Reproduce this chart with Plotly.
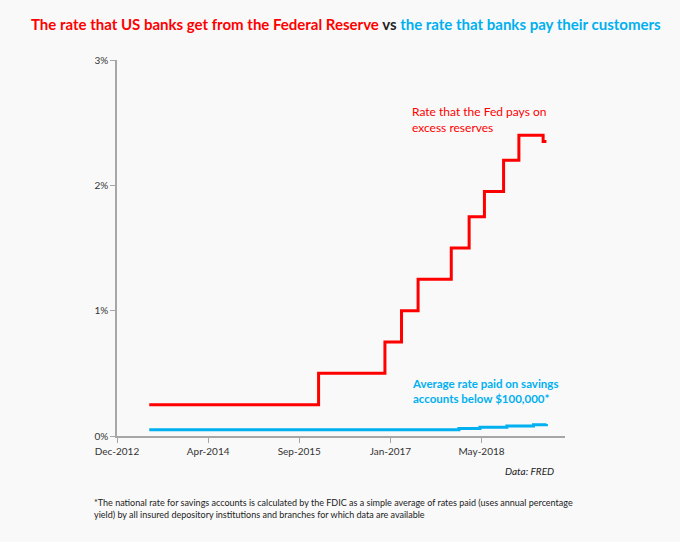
import plotly.graph_objects as go

# Interest rate on excess reserves (step changes), percent
fed_dates = ["2013-06-01", "2015-12-17", "2016-12-15", "2017-03-16", "2017-06-15",
             "2017-12-14", "2018-03-22", "2018-06-14", "2018-09-27", "2018-12-20",
             "2019-05-02", "2019-05-20"]
fed_rate = [0.25, 0.50, 0.75, 1.00, 1.25, 1.50, 1.75, 1.95, 2.20, 2.40, 2.35, 2.35]

# FDIC national savings rate (step changes), percent
sav_dates = ["2013-06-01", "2018-01-25", "2018-05-20", "2018-06-05", "2018-10-15",
             "2019-03-10", "2019-05-20"]
sav_rate = [0.05, 0.06, 0.07, 0.07, 0.08, 0.09, 0.095]

tick_dates = ["2012-12-06", "2014-04-20", "2015-09-02", "2017-01-14", "2018-05-29"]
tick_labels = ["Dec-2012", "Apr-2014", "Sep-2015", "Jan-2017", "May-2018"]

y_ticks = [0, 1, 2, 3]
y_tick_labels = ["0%", "1%", "2%", "3%"]

RED = "#FF0000"
BLUE = "#00B0F0"
BG = "#F9F9F9"
FONT = "Lato"

fig = go.Figure()
fig.add_trace(go.Scatter(x=fed_dates, y=fed_rate, mode="lines", line_shape="hv",
                         line=dict(color=RED, width=3), hoverinfo="skip"))
fig.add_trace(go.Scatter(x=sav_dates, y=sav_rate, mode="lines", line_shape="hv",
                         line=dict(color=BLUE, width=3), hoverinfo="skip"))

fig.update_layout(
    width=680, height=542,
    margin=dict(l=117, r=115, t=60, b=106),
    paper_bgcolor=BG, plot_bgcolor=BG,
    showlegend=False,
    font=dict(family=FONT, size=10, color="#333333"),
)
fig.update_xaxes(
    type="date", range=["2012-12-06", "2019-08-30"],
    tickvals=tick_dates, ticktext=tick_labels,
    showgrid=False, zeroline=False,
    showline=True, linecolor="#A6A6A6", linewidth=1.5,
    ticks="outside", ticklen=5, tickcolor="#A6A6A6",
    tickfont=dict(size=10, color="#333333"),
)
fig.update_yaxes(
    range=[0, 3], tickvals=y_ticks, ticktext=y_tick_labels,
    showgrid=False, zeroline=False,
    showline=True, linecolor="#A6A6A6", linewidth=1.5,
    ticks="outside", ticklen=5, tickcolor="#A6A6A6",
    tickfont=dict(size=10, color="#333333"),
)

title_text = (f"<span style='color:{RED}'>The rate that US banks get from the Federal Reserve</span>"
              f"<span style='color:#222222'> vs </span>"
              f"<span style='color:{BLUE}'>the rate that banks pay their customers</span>")
fig.add_annotation(text=f"<b>{title_text}</b>", xref="paper", yref="paper",
                   x=(346 - 117) / 448, y=1 + (60 - 24) / 376, xanchor="center", yanchor="middle",
                   showarrow=False, font=dict(family=FONT, size=15))

fig.add_annotation(text="Rate that the Fed pays on<br>excess reserves", xref="paper", yref="paper",
                   x=(410 - 117) / 448, y=(436 - 120) / 376, xanchor="left", yanchor="middle",
                   align="left", showarrow=False, font=dict(family=FONT, size=12, color=RED))
fig.add_annotation(text="<b>Average rate paid on savings<br>accounts below $100,000*</b>",
                   xref="paper", yref="paper",
                   x=(410 - 117) / 448, y=(436 - 391) / 376, xanchor="left", yanchor="middle",
                   align="left", showarrow=False, font=dict(family=FONT, size=11.5, color=BLUE))
fig.add_annotation(text="<i>Data: FRED</i>", xref="paper", yref="paper",
                   x=(556 - 117) / 448, y=(436 - 471) / 376, xanchor="right", yanchor="middle",
                   showarrow=False, font=dict(family=FONT, size=10, color="#222222"))
fig.add_annotation(text="*The national rate for savings accounts is calculated by the FDIC as a simple average of rates paid (uses annual percentage<br>yield) by all insured depository institutions and branches for which data are available",
                   xref="paper", yref="paper",
                   x=(92 - 117) / 448, y=(436 - 508) / 376, xanchor="left", yanchor="middle",
                   align="left", showarrow=False, font=dict(family=FONT, size=9, color="#222222"))

fig.write_html("out.html", config={"displayModeBar": False},
               post_script="document.body.style.margin='0';document.body.style.background='#F9F9F9';")
